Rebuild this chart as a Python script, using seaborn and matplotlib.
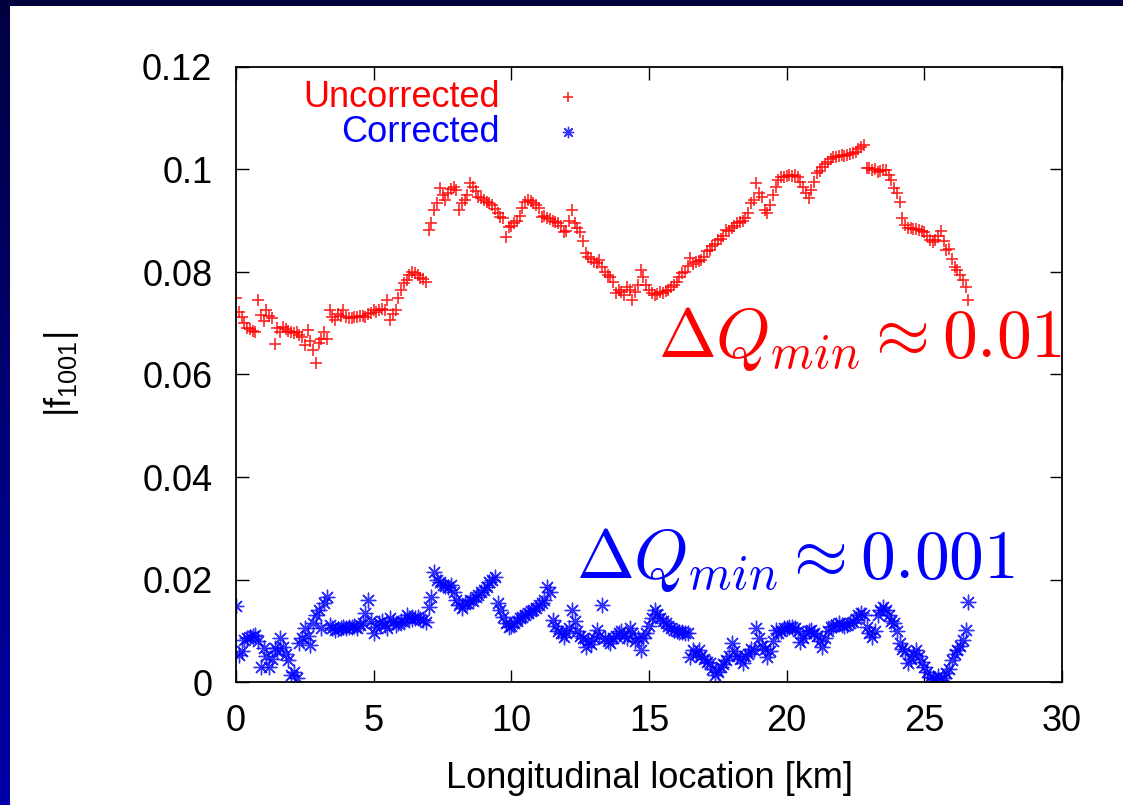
import numpy as np
import pandas as pd
import matplotlib
matplotlib.use("Agg")
import matplotlib.pyplot as plt
import seaborn as sns
from matplotlib.ticker import FuncFormatter
from matplotlib.colors import LinearSegmentedColormap

# ---------------- data ----------------
x_start_km = 0.0
x_step_km = 0.1

uncorrected_f1001 = [
    0.0749, 0.0722, 0.0712, 0.0700, 0.0690, 0.0688, 0.0685, 0.0683, 0.0745, 0.0716,
    0.0705, 0.0726, 0.0715, 0.0710, 0.0660, 0.0690, 0.0683, 0.0693, 0.0688, 0.0685,
    0.0683, 0.0680, 0.0682, 0.0678, 0.0673, 0.0658, 0.0687, 0.0665, 0.0648, 0.0622,
    0.0661, 0.0670, 0.0683, 0.0670, 0.0726, 0.0712, 0.0706, 0.0718, 0.0715, 0.0726,
    0.0712, 0.0710, 0.0710, 0.0712, 0.0713, 0.0715, 0.0714, 0.0712, 0.0718, 0.0720,
    0.0726, 0.0722, 0.0725, 0.0728, 0.0726, 0.0745, 0.0706, 0.0718, 0.0726, 0.0750,
    0.0765, 0.0778, 0.0785, 0.0795, 0.0800, 0.0798, 0.0795, 0.0788, 0.0786, 0.0780,
    0.0882, 0.0895, 0.0921, 0.0935, 0.0964, 0.0950, 0.0940, 0.0955, 0.0962, 0.0966,
    0.0960, 0.0921, 0.0935, 0.0940, 0.0950, 0.0973, 0.0965, 0.0958, 0.0946, 0.0945,
    0.0940, 0.0936, 0.0934, 0.0930, 0.0922, 0.0915, 0.0907, 0.0905, 0.0868, 0.0888,
    0.0890, 0.0895, 0.0900, 0.0910, 0.0925, 0.0937, 0.0940, 0.0938, 0.0934, 0.0930,
    0.0925, 0.0907, 0.0910, 0.0905, 0.0903, 0.0900, 0.0898, 0.0895, 0.0890, 0.0878,
    0.0880, 0.0900, 0.0921, 0.0895, 0.0885, 0.0878, 0.0860, 0.0837, 0.0830, 0.0825,
    0.0820, 0.0817, 0.0823, 0.0810, 0.0800, 0.0795, 0.0790, 0.0780, 0.0759, 0.0765,
    0.0760, 0.0755, 0.0770, 0.0765, 0.0745, 0.0760, 0.0775, 0.0804, 0.0790, 0.0775,
    0.0765, 0.0759, 0.0755, 0.0758, 0.0760, 0.0759, 0.0762, 0.0765, 0.0770, 0.0775,
    0.0780, 0.0790, 0.0798, 0.0800, 0.0812, 0.0827, 0.0815, 0.0820, 0.0822, 0.0823,
    0.0830, 0.0840, 0.0843, 0.0850, 0.0855, 0.0862, 0.0865, 0.0870, 0.0882, 0.0880,
    0.0885, 0.0890, 0.0896, 0.0898, 0.0900, 0.0905, 0.0915, 0.0934, 0.0940, 0.0973,
    0.0955, 0.0946, 0.0920, 0.0915, 0.0930, 0.0950, 0.0966, 0.0980, 0.0985, 0.0985,
    0.0988, 0.0990, 0.0988, 0.0990, 0.0985, 0.0975, 0.0966, 0.0954, 0.0944, 0.0960,
    0.0975, 0.0993, 0.0998, 0.1005, 0.1010, 0.1015, 0.1020, 0.1024, 0.1025, 0.1026,
    0.1028, 0.1027, 0.1028, 0.1030, 0.1032, 0.1035, 0.1040, 0.1044, 0.1048, 0.1003,
    0.1003, 0.0999, 0.1000, 0.0995, 0.0998, 0.0999, 0.0999, 0.0990, 0.0980, 0.0964,
    0.0955, 0.0937, 0.0905, 0.0892, 0.0886, 0.0885, 0.0884, 0.0883, 0.0882, 0.0880,
    0.0878, 0.0870, 0.0862, 0.0858, 0.0862, 0.0870, 0.0880, 0.0860, 0.0843, 0.0845,
    0.0825, 0.0810, 0.0804, 0.0795, 0.0785, 0.0770, 0.0745,
]

corrected_f1001 = [
    0.0148, 0.0053, 0.0060, 0.0082, 0.0085, 0.0088, 0.0090, 0.0092, 0.0080, 0.0030,
    0.0066, 0.0050, 0.0030, 0.0045, 0.0066, 0.0060, 0.0086, 0.0069, 0.0055, 0.0043,
    0.0014, 0.0020, 0.0008, 0.0076, 0.0085, 0.0105, 0.0090, 0.0072, 0.0115, 0.0131,
    0.0140, 0.0105, 0.0155, 0.0166, 0.0112, 0.0105, 0.0101, 0.0103, 0.0105, 0.0108,
    0.0105, 0.0108, 0.0107, 0.0110, 0.0105, 0.0112, 0.0115, 0.0134, 0.0160, 0.0120,
    0.0095, 0.0108, 0.0115, 0.0120, 0.0112, 0.0105, 0.0125, 0.0118, 0.0112, 0.0115,
    0.0120, 0.0118, 0.0131, 0.0125, 0.0122, 0.0124, 0.0126, 0.0122, 0.0121, 0.0118,
    0.0146, 0.0165, 0.0215, 0.0200, 0.0195, 0.0190, 0.0188, 0.0185, 0.0190, 0.0175,
    0.0160, 0.0150, 0.0144, 0.0152, 0.0155, 0.0160, 0.0158, 0.0165, 0.0170, 0.0175,
    0.0180, 0.0185, 0.0195, 0.0200, 0.0205, 0.0154, 0.0140, 0.0127, 0.0115, 0.0107,
    0.0110, 0.0115, 0.0120, 0.0125, 0.0127, 0.0130, 0.0135, 0.0138, 0.0140, 0.0144,
    0.0150, 0.0155, 0.0160, 0.0185, 0.0175, 0.0121, 0.0110, 0.0100, 0.0095, 0.0088,
    0.0095, 0.0105, 0.0140, 0.0120, 0.0100, 0.0090, 0.0085, 0.0068, 0.0080, 0.0075,
    0.0085, 0.0101, 0.0090, 0.0150, 0.0085, 0.0080, 0.0076, 0.0085, 0.0090, 0.0095,
    0.0100, 0.0090, 0.0085, 0.0105, 0.0095, 0.0080, 0.0085, 0.0062, 0.0085, 0.0095,
    0.0110, 0.0125, 0.0140, 0.0132, 0.0125, 0.0120, 0.0115, 0.0110, 0.0106, 0.0101,
    0.0100, 0.0098, 0.0097, 0.0095, 0.0095, 0.0049, 0.0062, 0.0055, 0.0062, 0.0050,
    0.0045, 0.0040, 0.0037, 0.0025, 0.0014, 0.0020, 0.0030, 0.0035, 0.0043, 0.0050,
    0.0076, 0.0060, 0.0050, 0.0045, 0.0037, 0.0050, 0.0055, 0.0065, 0.0062, 0.0105,
    0.0085, 0.0070, 0.0065, 0.0049, 0.0060, 0.0080, 0.0101, 0.0095, 0.0100, 0.0105,
    0.0106, 0.0107, 0.0108, 0.0105, 0.0100, 0.0078, 0.0085, 0.0095, 0.0100, 0.0101,
    0.0095, 0.0090, 0.0080, 0.0068, 0.0085, 0.0100, 0.0108, 0.0110, 0.0112, 0.0115,
    0.0112, 0.0110, 0.0112, 0.0115, 0.0118, 0.0122, 0.0130, 0.0134, 0.0130, 0.0107,
    0.0095, 0.0088, 0.0100, 0.0130, 0.0140, 0.0146, 0.0140, 0.0130, 0.0120, 0.0115,
    0.0100, 0.0076, 0.0065, 0.0060, 0.0037, 0.0045, 0.0055, 0.0062, 0.0050, 0.0040,
    0.0030, 0.0020, 0.0010, 0.0008, 0.0005, 0.0012, 0.0004, 0.0008, 0.0018, 0.0025,
    0.0043, 0.0055, 0.0062, 0.0070, 0.0082, 0.0101, 0.0156,
]

series_labels = ["Uncorrected", "Corrected"]
x_ticks = [0, 5, 10, 15, 20, 25, 30]
y_ticks = [0, 0.02, 0.04, 0.06, 0.08, 0.1, 0.12]
x_label = "Longitudinal location [km]"
y_label = r"|f$_{1001}$|"
note_uncorrected = r"$\Delta Q_{min} \approx 0.01$"
note_corrected = r"$\Delta Q_{min} \approx 0.001$"

# ---------------- styling ----------------
sns.set_theme(style="ticks")
plt.rcParams["font.family"] = ["Liberation Sans", "DejaVu Sans"]
plt.rcParams["mathtext.fontset"] = "custom"
plt.rcParams["mathtext.rm"] = "Liberation Sans"
plt.rcParams["mathtext.it"] = "Liberation Sans:italic"
plt.rcParams["mathtext.bf"] = "Liberation Sans:bold"

W, H = 1123, 805
FS = 26
fig = plt.figure(figsize=(W / 100, H / 100), dpi=100, facecolor="white")

# decorative slide border (left and top strips)
cmap = LinearSegmentedColormap.from_list("slide", ["#000040", "#0000a8"])
ax_left = fig.add_axes([0, 0, 10 / W, 1])
ax_left.imshow(np.linspace(0, 1, 256).reshape(-1, 1), aspect="auto", cmap=cmap)
ax_left.set_axis_off()
ax_top = fig.add_axes([0, 1 - 6 / H, 1, 6 / H])
ax_top.set_facecolor("#00003c")
ax_top.set_xticks([]); ax_top.set_yticks([])
for s in ax_top.spines.values():
    s.set_visible(False)

ax = fig.add_axes([236 / W, (H - 682) / H, (1062 - 236) / W, (682 - 67) / H])

n_r = len(uncorrected_f1001)
n_b = len(corrected_f1001)
df_r = pd.DataFrame({"km": np.round(x_start_km + x_step_km * np.arange(n_r), 2),
                     "f": uncorrected_f1001})
df_b = pd.DataFrame({"km": np.round(x_start_km + x_step_km * np.arange(n_b), 2),
                     "f": corrected_f1001})

sns.scatterplot(data=df_r, x="km", y="f", ax=ax, marker="+", color="#ff0000",
                s=85, linewidth=1.2, alpha=0.85, label=series_labels[0])
sns.scatterplot(data=df_b, x="km", y="f", ax=ax, marker=(8, 2, 0), color="#0000ff",
                s=110, linewidth=1.0, alpha=0.8, label=series_labels[1])

ax.set_xlim(0, 30)
ax.set_ylim(0, 0.12)
ax.set_xticks(x_ticks)
ax.set_yticks(y_ticks)
ax.yaxis.set_major_formatter(FuncFormatter(lambda v, p: f"{v:g}"))
ax.xaxis.set_major_formatter(FuncFormatter(lambda v, p: f"{v:g}"))
ax.tick_params(direction="in", length=9, width=1.0, top=True, right=True,
               labelsize=FS, colors="black")
ax.tick_params(axis="y", pad=17)
ax.tick_params(axis="x", pad=16)
for s in ax.spines.values():
    s.set_visible(True)
    s.set_linewidth(1.3)
    s.set_color("black")

ax.set_xlabel(x_label, fontsize=FS, labelpad=16, color="black")
ax.set_ylabel(y_label, fontsize=FS, labelpad=44, color="black")

leg = ax.legend(loc="upper right", bbox_to_anchor=(0.446, 0.979), frameon=False,
                markerfirst=False, fontsize=FS, handletextpad=0.9, handlelength=2.0,
                borderpad=0, borderaxespad=0, labelspacing=0.0,
                labelcolor=["#ff0000", "#0000ff"], scatterpoints=1)
for h in leg.legend_handles:
    h.set_sizes([55])

ax.text(30, 0.0634, note_uncorrected, color="#ff0000", fontsize=50,
        ha="right", va="baseline", math_fontfamily="cm")
ax.text(28.3, 0.0203, note_corrected, color="#0000ff", fontsize=50,
        ha="right", va="baseline", math_fontfamily="cm")

fig.savefig("out.png", dpi=100, facecolor="white")
